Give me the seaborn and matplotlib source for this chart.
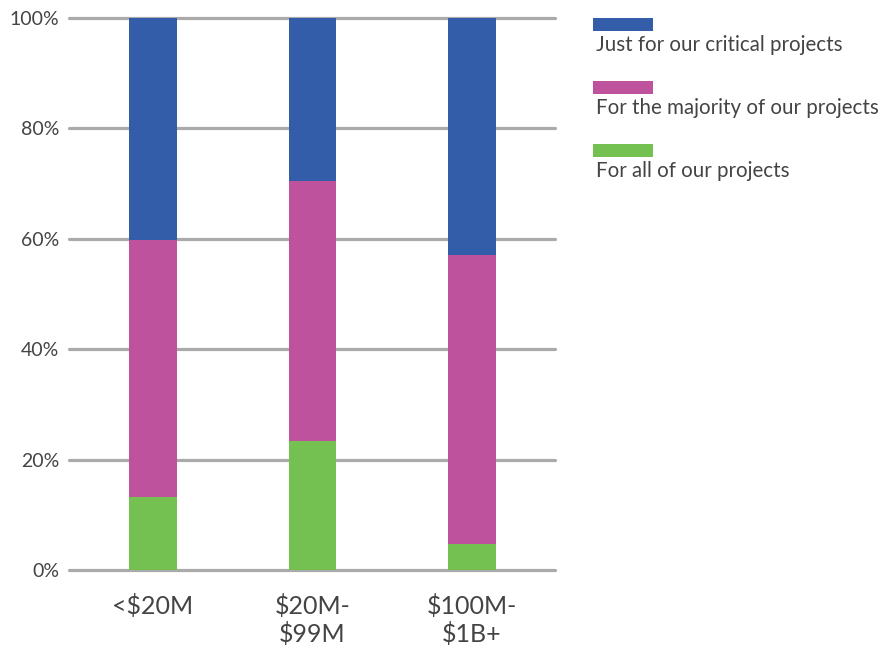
import matplotlib
matplotlib.use("Agg")
import matplotlib.pyplot as plt
import matplotlib.patches as mpatches
import seaborn as sns
import pandas as pd
import numpy as np

categories = ["<$20M", "$20M-\n$99M", "$100M-\n$1B+"]
all_projects = [13.2, 23.4, 4.7]
majority_projects = [46.6, 47.1, 52.4]
critical_projects = [40.2, 29.5, 42.9]
series_names = ["Just for our critical projects",
                "For the majority of our projects",
                "For all of our projects"]
colors = ["#335DA8", "#BE529D", "#74C050"]
yticks = [0, 20, 40, 60, 80, 100]
ytick_labels = ["0%", "20%", "40%", "60%", "80%", "100%"]

sns.set_theme(style="white")
plt.rcParams["font.family"] = ["Lato", "DejaVu Sans"]

df = pd.DataFrame({
    "cat": categories,
    "green": all_projects,
    "magenta": np.array(all_projects) + np.array(majority_projects),
    "blue": np.array(all_projects) + np.array(majority_projects) + np.array(critical_projects),
})

fig = plt.figure(figsize=(8.8, 6.48), dpi=100)
ax = fig.add_axes([69/880, 78/648, 486/880, 552/648])

for col, c in zip(["blue", "magenta", "green"], colors):
    sns.barplot(data=df, x="cat", y=col, color=c, width=0.30, ax=ax,
                saturation=1, zorder=3, linewidth=0)

ax.set_ylim(0, 100)
ax.set_xlim(-0.527, 2.52)
ax.set_yticks(yticks)
ax.set_yticklabels(ytick_labels)
ax.set_xlabel("")
ax.set_ylabel("")
for s in ax.spines.values():
    s.set_visible(False)
ax.yaxis.grid(True, color="#AAAAAA", linewidth=2.3, zorder=0)
for gl in ax.get_ygridlines():
    gl.set_clip_on(False)
ax.set_axisbelow(True)
ax.tick_params(axis="y", length=0, pad=7, labelsize=14, labelcolor="#444444")
ax.tick_params(axis="x", length=0, pad=17, labelsize=18, labelcolor="#444444")
for lbl in ax.get_xticklabels():
    lbl.set_linespacing(1.2)

# legend
W, H = 880, 648
leg_y = [18, 81, 144]
for name, c, y in zip(series_names, colors, leg_y):
    fig.add_artist(mpatches.Rectangle((593/W, 1 - (y + 13)/H), 60/W, 13/H,
                                      transform=fig.transFigure, color=c, lw=0))
    fig.text(596/W, 1 - (y + 27)/H, name, fontsize=14.8, color="#444444",
             ha="left", va="center")

fig.savefig("out.png", dpi=100)
